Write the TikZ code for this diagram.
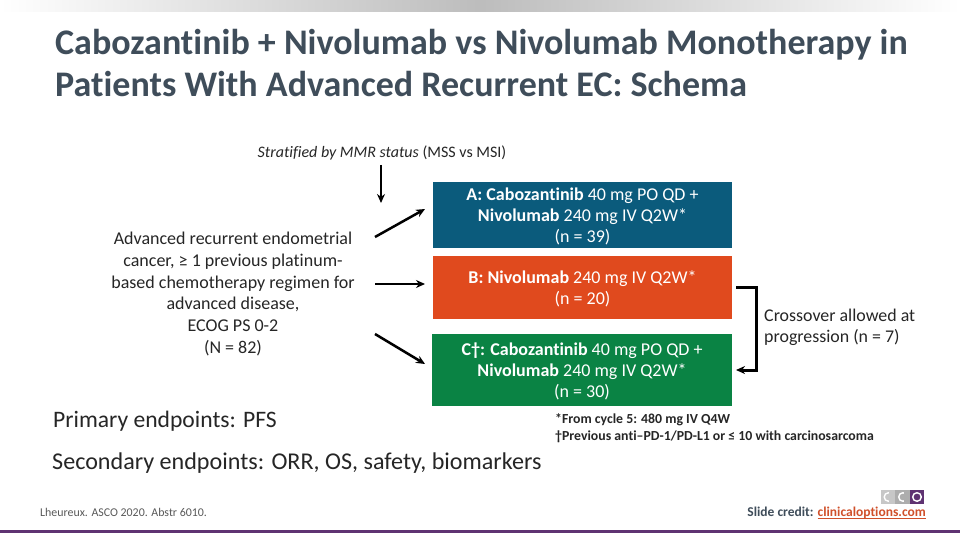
\documentclass[tikz,border=0pt]{standalone}
\usepackage{fontspec}
\setmainfont{Carlito}[Ligatures={NoCommon}]
\usetikzlibrary{arrows.meta}
\definecolor{titlecol}{HTML}{3F4D5A}
\definecolor{boxa}{HTML}{0B5B7C}
\definecolor{boxb}{HTML}{E04A1E}
\definecolor{boxc}{HTML}{0A8344}
\definecolor{purp}{HTML}{5F3372}
\definecolor{linkc}{HTML}{D0502A}
\tikzset{
  armbox/.style={draw=none,minimum width=299pt,inner sep=0pt,text=white,align=center,font=\fontsize{18}{21.2}\selectfont,text depth=0pt},
  plain/.style={inner sep=0pt,align=center,text=black!85},
  arrowline/.style={line width=2.5pt,-{Stealth[length=9pt,width=8pt]},black},
}
\begin{document}
\begin{tikzpicture}[x=1pt,y=-1pt]
\useasboundingbox (0,0) rectangle (960,540);
\fill[white] (0,0) rectangle (960,540);
\shade[left color=white,right color=black!26,draw=none] (0,0) rectangle (480,12);
\shade[left color=black!26,right color=white,draw=none] (480,0) rectangle (960,12);
\node[anchor=west,inner sep=0pt,text=titlecol,font=\fontsize{36}{42.5}\selectfont\bfseries,align=left] (title) at (55,63) {Cabozantinib + Nivolumab vs Nivolumab Monotherapy in\\Patients With Advanced Recurrent EC: Schema};
\node[plain,anchor=center,font=\fontsize{16}{19}\selectfont] (strat) at (382,153) {\textit{Stratified by MMR status} (MSS vs MSI)};
\node[plain,anchor=center,font=\fontsize{18}{21.7}\selectfont] (pop) at (233,294) {Advanced recurrent endometrial\\cancer, ≥ 1 previous platinum-\\based chemotherapy regimen for\\advanced disease,\\ECOG PS 0-2\\(N = 82)};
\node[armbox,fill=boxa,minimum height=66pt] (A) at (582.5,215) {\textbf{A: Cabozantinib} 40 mg PO QD +\\\textbf{Nivolumab} 240 mg IV Q2W*\\(n = 39)};
\node[armbox,fill=boxb,minimum height=63pt] (B) at (582.5,287.5) {\textbf{B: Nivolumab} 240 mg IV Q2W*\\(n = 20)};
\node[armbox,fill=boxc,minimum height=72pt,minimum width=300pt] (C) at (582,370) {\textbf{C†: Cabozantinib} 40 mg PO QD +\\\textbf{Nivolumab} 240 mg IV Q2W*\\(n = 30)};
\node[plain,anchor=west,align=left,font=\fontsize{17.9}{21}\selectfont] (cross) at (764,327) {Crossover allowed at\\progression (n = 7)};
\node[plain,anchor=west,font=\fontsize{23.6}{25}\selectfont] (prim) at (53,421) {Primary endpoints: PFS};
\node[plain,anchor=west,font=\fontsize{24.1}{25}\selectfont] (sec) at (52,463) {Secondary endpoints: ORR, OS, safety, biomarkers};
\node[plain,anchor=west,align=left,font=\fontsize{13.8}{17}\selectfont\bfseries] (notes) at (555,428) {*From cycle 5: 480 mg IV Q4W\\†Previous anti–PD-1/PD-L1 or ≤ 10 with carcinosarcoma};
\node[plain,anchor=west,text=black!65,font=\fontsize{11.9}{14}\selectfont] (ref) at (40,512) {Lheureux. ASCO 2020. Abstr 6010.};
\node[plain,anchor=east,text=titlecol,font=\fontsize{13.5}{16}\selectfont] (credit) at (926,513) {\textbf{Slide credit:} \textcolor{linkc}{\underline{\smash{\textbf{clinicaloptions.com}}}}};
% CCO logo
\fill[black!22] (881,490) rectangle (895,504);
\fill[black!32] (895,490) rectangle (910,504);
\fill[purp] (910,490) rectangle (924,504);
\draw[white,line width=1.4pt] (888.5,497) circle (4.3);
\draw[white,line width=1.4pt] (903,497) circle (4.3);
\draw[white,line width=1.4pt] (917,497) circle (4.3);
\fill[black!22] (889,491) rectangle (895,503);
\fill[black!32] (903.5,491) rectangle (910,503);
% footer line
\fill[purp] (0,530) rectangle (960,533);
% connectors
\coordinate (d0) at (381,165);
\coordinate (d1) at (381,203);
\coordinate (a0) at (375,237);
\coordinate (a1) at (425,209);
\coordinate (b0) at (375,284);
\coordinate (b1) at (425,284);
\coordinate (c0) at (375,334);
\coordinate (c1) at (425,364);
\coordinate (x0) at (736,287);
\coordinate (x1) at (736,370);
\draw[arrowline] (d0) -- (d1);
\draw[arrowline] (a0) -- (a1);
\draw[arrowline] (b0) -- (b1);
\draw[arrowline] (c0) -- (c1);
\draw[arrowline,line width=3pt] (x0) -- (756,287) -- (756,370) -- (x1);
\end{tikzpicture}
\end{document}
